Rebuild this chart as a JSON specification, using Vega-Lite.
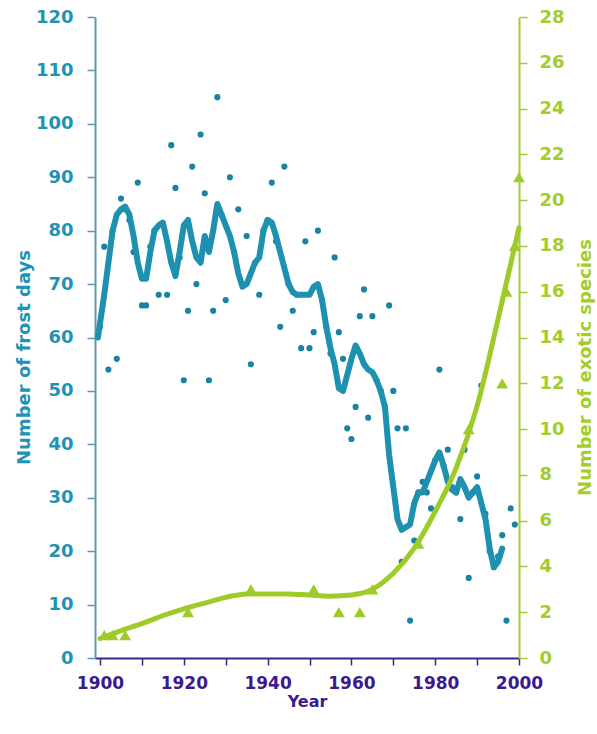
{
  "$schema": "https://vega.github.io/schema/vega-lite/v6.json",
  "width": 424,
  "height": 641,
  "autosize": "none",
  "padding": {"left": 95, "top": 17, "right": 78, "bottom": 76},
  "background": "white",
  "config": {
    "view": {"stroke": null},
    "axis": {
      "grid": false,
      "labelFont": "DejaVu Sans",
      "labelFontWeight": "bold",
      "titleFont": "DejaVu Sans",
      "titleFontWeight": "bold"
    }
  },
  "datasets": {
    "frost": [
      {"year": 1900, "days": 62}, {"year": 1901, "days": 77}, {"year": 1902, "days": 54}, {"year": 1903, "days": 80},
      {"year": 1904, "days": 56}, {"year": 1905, "days": 86}, {"year": 1906, "days": 84}, {"year": 1907, "days": 82},
      {"year": 1908, "days": 76}, {"year": 1909, "days": 89}, {"year": 1910, "days": 66}, {"year": 1911, "days": 66},
      {"year": 1912, "days": 77}, {"year": 1913, "days": 80}, {"year": 1914, "days": 68}, {"year": 1915, "days": 81},
      {"year": 1916, "days": 68}, {"year": 1917, "days": 96}, {"year": 1918, "days": 88}, {"year": 1919, "days": 75},
      {"year": 1920, "days": 52}, {"year": 1921, "days": 65}, {"year": 1922, "days": 92}, {"year": 1923, "days": 70},
      {"year": 1924, "days": 98}, {"year": 1925, "days": 87}, {"year": 1926, "days": 52}, {"year": 1927, "days": 65},
      {"year": 1928, "days": 105}, {"year": 1929, "days": 83}, {"year": 1930, "days": 67}, {"year": 1931, "days": 90},
      {"year": 1932, "days": 76}, {"year": 1933, "days": 84}, {"year": 1934, "days": 70}, {"year": 1935, "days": 79},
      {"year": 1936, "days": 55}, {"year": 1937, "days": 74}, {"year": 1938, "days": 68}, {"year": 1939, "days": 80},
      {"year": 1940, "days": 82}, {"year": 1941, "days": 89}, {"year": 1942, "days": 78}, {"year": 1943, "days": 62},
      {"year": 1944, "days": 92}, {"year": 1945, "days": 70}, {"year": 1946, "days": 65}, {"year": 1947, "days": 68},
      {"year": 1948, "days": 58}, {"year": 1949, "days": 78}, {"year": 1950, "days": 58}, {"year": 1951, "days": 61},
      {"year": 1952, "days": 80}, {"year": 1953, "days": 67}, {"year": 1954, "days": 62}, {"year": 1955, "days": 57},
      {"year": 1956, "days": 75}, {"year": 1957, "days": 61}, {"year": 1958, "days": 56}, {"year": 1959, "days": 43},
      {"year": 1960, "days": 41}, {"year": 1961, "days": 47}, {"year": 1962, "days": 64}, {"year": 1963, "days": 69},
      {"year": 1964, "days": 45}, {"year": 1965, "days": 64}, {"year": 1966, "days": 52}, {"year": 1967, "days": 50},
      {"year": 1968, "days": 47}, {"year": 1969, "days": 66}, {"year": 1970, "days": 50}, {"year": 1971, "days": 43},
      {"year": 1972, "days": 18}, {"year": 1973, "days": 43}, {"year": 1974, "days": 7}, {"year": 1975, "days": 22},
      {"year": 1976, "days": 31}, {"year": 1977, "days": 33}, {"year": 1978, "days": 31}, {"year": 1979, "days": 28},
      {"year": 1980, "days": 37}, {"year": 1981, "days": 54}, {"year": 1982, "days": 36}, {"year": 1983, "days": 39},
      {"year": 1984, "days": 32}, {"year": 1985, "days": 31}, {"year": 1986, "days": 26}, {"year": 1987, "days": 39},
      {"year": 1988, "days": 15}, {"year": 1989, "days": 31}, {"year": 1990, "days": 34}, {"year": 1991, "days": 51},
      {"year": 1992, "days": 27}, {"year": 1993, "days": 20}, {"year": 1994, "days": 17}, {"year": 1995, "days": 19},
      {"year": 1996, "days": 23}, {"year": 1997, "days": 7}, {"year": 1998, "days": 28}, {"year": 1999, "days": 25}
    ],
    "frostMean": [
      {"year": 1899.5, "days": 60}, {"year": 1901, "days": 68}, {"year": 1902, "days": 74}, {"year": 1903, "days": 80},
      {"year": 1904, "days": 83}, {"year": 1905, "days": 84}, {"year": 1906, "days": 84.5}, {"year": 1907, "days": 83},
      {"year": 1908, "days": 79}, {"year": 1909, "days": 74}, {"year": 1910, "days": 71}, {"year": 1911, "days": 71},
      {"year": 1912, "days": 76}, {"year": 1913, "days": 80}, {"year": 1914, "days": 81}, {"year": 1915, "days": 81.5},
      {"year": 1916, "days": 78}, {"year": 1917, "days": 74}, {"year": 1918, "days": 71.5}, {"year": 1919, "days": 76},
      {"year": 1920, "days": 81}, {"year": 1921, "days": 82}, {"year": 1922, "days": 78}, {"year": 1923, "days": 75},
      {"year": 1924, "days": 74}, {"year": 1925, "days": 79}, {"year": 1926, "days": 76}, {"year": 1927, "days": 80},
      {"year": 1928, "days": 85}, {"year": 1929, "days": 83}, {"year": 1930, "days": 81}, {"year": 1931, "days": 79},
      {"year": 1932, "days": 76}, {"year": 1933, "days": 72}, {"year": 1934, "days": 69.5}, {"year": 1935, "days": 70},
      {"year": 1936, "days": 72}, {"year": 1937, "days": 74}, {"year": 1938, "days": 75}, {"year": 1939, "days": 80},
      {"year": 1940, "days": 82}, {"year": 1941, "days": 81.5}, {"year": 1942, "days": 79}, {"year": 1943, "days": 76},
      {"year": 1944, "days": 73}, {"year": 1945, "days": 70}, {"year": 1946, "days": 68.5}, {"year": 1947, "days": 68},
      {"year": 1948, "days": 68}, {"year": 1949, "days": 68}, {"year": 1950, "days": 68}, {"year": 1951, "days": 69.5},
      {"year": 1952, "days": 70}, {"year": 1953, "days": 67}, {"year": 1954, "days": 62}, {"year": 1955, "days": 58},
      {"year": 1956, "days": 55}, {"year": 1957, "days": 50.5}, {"year": 1958, "days": 50}, {"year": 1959, "days": 53},
      {"year": 1960, "days": 56}, {"year": 1961, "days": 58.5}, {"year": 1962, "days": 57}, {"year": 1963, "days": 55},
      {"year": 1964, "days": 54}, {"year": 1965, "days": 53.5}, {"year": 1966, "days": 52}, {"year": 1967, "days": 50},
      {"year": 1968, "days": 47}, {"year": 1969, "days": 38}, {"year": 1970, "days": 32}, {"year": 1971, "days": 26},
      {"year": 1972, "days": 24}, {"year": 1973, "days": 24.5}, {"year": 1974, "days": 25}, {"year": 1975, "days": 29},
      {"year": 1976, "days": 31}, {"year": 1977, "days": 31}, {"year": 1978, "days": 33}, {"year": 1979, "days": 35},
      {"year": 1980, "days": 37}, {"year": 1981, "days": 38.5}, {"year": 1982, "days": 36}, {"year": 1983, "days": 33},
      {"year": 1984, "days": 31.5}, {"year": 1985, "days": 31}, {"year": 1986, "days": 33.5}, {"year": 1987, "days": 32},
      {"year": 1988, "days": 30}, {"year": 1989, "days": 31}, {"year": 1990, "days": 32}, {"year": 1991, "days": 29},
      {"year": 1992, "days": 26}, {"year": 1993, "days": 20.5}, {"year": 1994, "days": 17}, {"year": 1995, "days": 18},
      {"year": 1996, "days": 20.5}
    ],
    "species": [
      {"year": 1901, "count": 1}, {"year": 1903, "count": 1}, {"year": 1906, "count": 1},
      {"year": 1921, "count": 2}, {"year": 1936, "count": 3}, {"year": 1951, "count": 3},
      {"year": 1957, "count": 2}, {"year": 1962, "count": 2}, {"year": 1965, "count": 3},
      {"year": 1976, "count": 5}, {"year": 1988, "count": 10}, {"year": 1996, "count": 12},
      {"year": 1997, "count": 16}, {"year": 1999, "count": 18}, {"year": 2000, "count": 21}
    ],
    "speciesFit": [
      {"year": 1900, "count": 0.85}, {"year": 1905, "count": 1.2}, {"year": 1910, "count": 1.5},
      {"year": 1915, "count": 1.85}, {"year": 1920, "count": 2.15}, {"year": 1925, "count": 2.4},
      {"year": 1930, "count": 2.65}, {"year": 1935, "count": 2.8}, {"year": 1940, "count": 2.8},
      {"year": 1945, "count": 2.8}, {"year": 1950, "count": 2.75}, {"year": 1955, "count": 2.7},
      {"year": 1960, "count": 2.75}, {"year": 1965, "count": 3.0}, {"year": 1970, "count": 3.7},
      {"year": 1975, "count": 4.8}, {"year": 1980, "count": 6.4}, {"year": 1985, "count": 8.3},
      {"year": 1990, "count": 11.0}, {"year": 1995, "count": 14.8}, {"year": 2000, "count": 18.8}
    ]
  },
  "encoding": {
    "x": {
      "field": "year",
      "type": "quantitative",
      "scale": {"domain": [1898.8, 2000], "nice": false, "zero": false},
      "axis": {
        "title": "Year",
        "values": [1900, 1910, 1920, 1930, 1940, 1950, 1960, 1970, 1980, 1990, 2000],
        "format": "d",
        "labelExpr": "datum.value % 20 === 0 ? datum.label : ''",
        "domainColor": "#3a2585",
        "domainWidth": 2,
        "tickColor": "#3a2585",
        "tickWidth": 1.5,
        "tickSize": 7,
        "labelColor": "#3c1a8e",
        "labelFontSize": 17,
        "labelPadding": 10,
        "labelFlush": false,
        "titleColor": "#3c1a8e",
        "titleFontSize": 16,
        "titlePadding": 2
      }
    }
  },
  "layer": [
    {
      "encoding": {
        "y": {
          "field": "days",
          "type": "quantitative",
          "scale": {"domain": [0, 120], "nice": false},
          "axis": {
            "orient": "left",
            "title": "Number of frost days",
            "values": [0, 10, 20, 30, 40, 50, 60, 70, 80, 90, 100, 110, 120],
            "domainColor": "#5f97ad",
            "domainWidth": 2,
            "tickColor": "#5f97ad",
            "tickWidth": 1.5,
            "tickSize": 8,
            "labelColor": "#1e93b5",
            "labelFontSize": 18,
            "labelPadding": 14,
            "labelFlush": false,
            "titleColor": "#1e93b5",
            "titleFontSize": 18,
            "titlePadding": 2,
            "titleY": 340
          }
        }
      },
      "layer": [
        {
          "data": {"name": "frost"},
          "mark": {"type": "point", "filled": true, "size": 38, "opacity": 1, "color": "#1b839f"}
        },
        {
          "data": {"name": "frostMean"},
          "mark": {"type": "line", "strokeWidth": 6, "color": "#1f91b0", "strokeJoin": "round", "strokeCap": "round"}
        }
      ]
    },
    {
      "encoding": {
        "y": {
          "field": "count",
          "type": "quantitative",
          "scale": {"domain": [0, 28], "nice": false},
          "axis": {
            "orient": "right",
            "title": "Number of exotic species",
            "values": [0, 2, 4, 6, 8, 10, 12, 14, 16, 18, 20, 22, 24, 26, 28],
            "domainColor": "#a3cc3a",
            "domainWidth": 2,
            "tickColor": "#a3cc3a",
            "tickWidth": 1.5,
            "tickSize": 8,
            "labelColor": "#a2cd2c",
            "labelFontSize": 18,
            "labelPadding": 12,
            "labelFlush": false,
            "titleColor": "#a2cd2c",
            "titleFontSize": 18,
            "titlePadding": 12,
            "titleAngle": 270,
            "titleBaseline": "top",
            "titleY": 350
          }
        }
      },
      "layer": [
        {
          "data": {"name": "speciesFit"},
          "mark": {"type": "line", "strokeWidth": 5, "color": "#9dcb2a", "interpolate": "monotone", "strokeCap": "round"}
        },
        {
          "data": {"name": "species"},
          "mark": {"type": "point", "shape": "triangle-up", "filled": true, "size": 140, "opacity": 1, "color": "#9dcb2a"}
        }
      ]
    }
  ],
  "resolve": {"scale": {"y": "independent"}}
}
